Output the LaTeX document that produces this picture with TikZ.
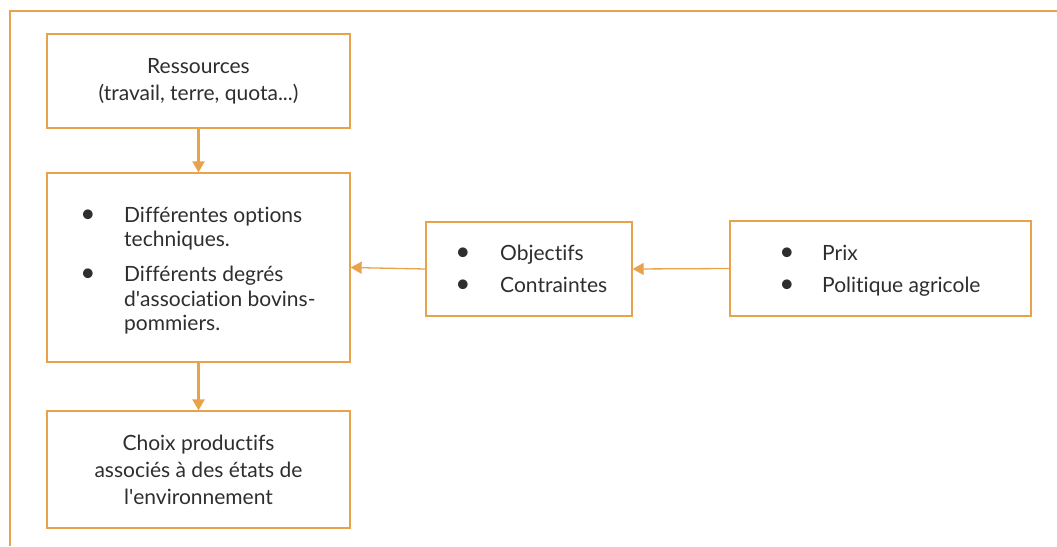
\documentclass[tikz,border=0pt]{standalone}
\usepackage{fontspec}
\setmainfont{Lato}[Ligatures={NoCommon,NoDiscretionary}]
\usetikzlibrary{arrows.meta}
\definecolor{org}{HTML}{E9A24C}
\definecolor{txt}{HTML}{2E2E2E}
\tikzset{
  frame/.style={draw=org, line width=1.2pt},
  box/.style={draw=org, line width=1.3pt, inner sep=0pt, align=center, text=txt,
     font=\fontsize{21}{27}\selectfont},
  ln/.style={anchor=base west, inner sep=0pt, text=txt, font=\fontsize{21}{27}\selectfont},
  bul/.style={anchor=base, inner sep=0pt, text=txt, font=\fontsize{26}{27}\selectfont},
  conn/.style={draw=org, line width=2.4pt, -{Triangle[width=12pt,length=11pt]}},
  hconn/.style={draw=org, line width=1.3pt, -{Triangle[width=12pt,length=11pt]}},
}
\begin{document}
\begin{tikzpicture}[x=1pt,y=-1pt]
\useasboundingbox (0,0) rectangle (1057,546);
\coordinate (fb) at (10,546);
\coordinate (fc) at (10,11);
\coordinate (fr) at (1057,11);
\draw[frame] (fb) -- (fc) -- (fr);

\node[box, minimum width=303pt, minimum height=94pt] (res) at (198.5,81) {Ressources\\(travail, terre, quota...)};
\node[box, minimum width=303pt, minimum height=189pt] (mid) at (198.5,267.5) {};
\node[box, minimum width=303pt, minimum height=117pt] (cho) at (198.5,469.5) {Choix productifs\\associés à des états de\\l\textquotesingle environnement};
\node[box, minimum width=206pt, minimum height=94pt] (obj) at (529,269) {};
\node[box, minimum width=301pt, minimum height=95pt] (prx) at (880.5,268.5) {};

% middle box text
\node[bul] (b1) at (88,222) {\textbullet};
\node[ln] (m1) at (124,222) {Différentes options};
\node[ln] (m2) at (124,246) {techniques.};
\node[bul] (b2) at (88,281) {\textbullet};
\node[ln] (m3) at (124,281) {Différents degrés};
\node[ln] (m4) at (124,306) {d\textquotesingle association bovins-};
\node[ln] (m5) at (124,330) {pommiers.};

% objectifs box
\node[bul] (b3) at (463,260) {\textbullet};
\node[ln] (o1) at (500,260) {Objectifs};
\node[bul] (b4) at (463,292) {\textbullet};
\node[ln] (o2) at (500,292) {Contraintes};

% prix box
\node[bul] (b5) at (787,260) {\textbullet};
\node[ln] (p1) at (822,260) {Prix};
\node[bul] (b6) at (787,292) {\textbullet};
\node[ln] (p2) at (822,292) {Politique agricole};

\draw[conn] (res.south) -- (mid.north);
\draw[conn] (mid.south) -- (cho.north);
\draw[hconn] (obj.west) -- (mid.east);
\draw[hconn] (prx.west) -- (obj.east);
\end{tikzpicture}
\end{document}
